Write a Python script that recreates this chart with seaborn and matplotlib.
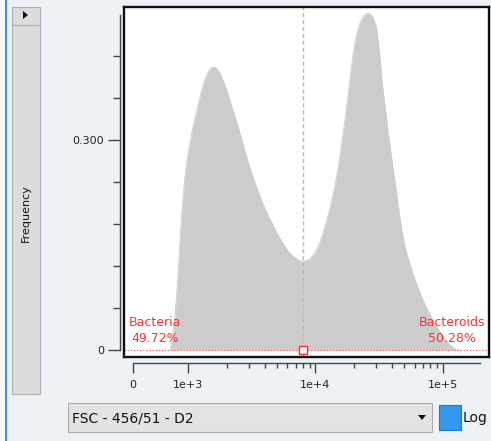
import numpy as np
import pandas as pd
import matplotlib
matplotlib.use("Agg")
import matplotlib.pyplot as plt
import seaborn as sns
from matplotlib.patches import Rectangle, Polygon
from matplotlib.ticker import FixedLocator, FixedFormatter, NullFormatter

# ---- data ----
fsc_values = [671, 707, 743, 760, 797, 833, 851, 887, 941, 977,
              1031, 1089, 1171, 1236, 1281, 1353, 1429, 1536, 1651, 1775,
              1979, 2206, 2415, 2644, 2842, 3056, 3285, 3465, 3662, 3866,
              4232, 4548, 4892, 5250, 5654, 6070, 6655, 7150, 7553, 8268,
              9053, 9732, 10560, 11340, 12410, 13840, 14870, 15700, 16870, 17810,
              18800, 19840, 20950, 22510, 24190, 26000, 27950, 30040, 31710, 33470,
              35330, 37290, 40090, 42310, 44670, 46300, 48880, 51600, 55460, 60690,
              66410, 72680, 79520, 87040, 95260, 104200, 114100, 124800, 131800]
frequency = [0.0, 0.0143, 0.0357, 0.0471, 0.0857, 0.1286, 0.1571, 0.2, 0.2486, 0.2714,
             0.2957, 0.3186, 0.3429, 0.3614, 0.3729, 0.3871, 0.3971, 0.4043, 0.4029, 0.3957,
             0.3743, 0.3471, 0.3243, 0.3, 0.2786, 0.26, 0.2429, 0.2314, 0.22, 0.2086,
             0.1929, 0.1814, 0.17, 0.16, 0.15, 0.1414, 0.1343, 0.13, 0.1271, 0.1271,
             0.13, 0.1371, 0.1486, 0.1643, 0.1886, 0.2243, 0.2543, 0.2829, 0.3229, 0.3571,
             0.3929, 0.4257, 0.45, 0.4686, 0.4786, 0.4814, 0.4771, 0.4629, 0.4286, 0.3814,
             0.3457, 0.31, 0.2686, 0.2386, 0.2071, 0.1857, 0.16, 0.14, 0.1214, 0.1,
             0.0814, 0.0643, 0.05, 0.0371, 0.0257, 0.0157, 0.0071, 0.0014, 0.0]
gate_threshold = 8000
gate_names = ["Bacteria", "Bacteroids"]
gate_percents = ["49.72%", "50.28%"]
x_major_ticks = [0, 1e3, 1e4, 1e5]
x_tick_labels = ["0", "1e+3", "1e+4", "1e+5"]
y_major_ticks = [0, 0.3]
y_tick_labels = ["0", "0.300"]
y_minor_ticks = [0.06, 0.12, 0.18, 0.24, 0.36, 0.42]
channel_label = "FSC - 456/51 - D2"
y_label = "Frequency"

df = pd.DataFrame({"fsc": fsc_values, "freq": frequency})

sns.set_style("white")
plt.rcParams["font.family"] = ["DejaVu Sans"]

W, H = 491, 441
BG = "#EEF2F6"
fig = plt.figure(figsize=(W / 100, H / 100), dpi=100, facecolor=BG)


def rect(x0, y0, x1, y1):
    return [x0 / W, 1 - y1 / H, (x1 - x0) / W, (y1 - y0) / H]


def fp(x, y):
    return (x / W, 1 - y / H)


XLIM = (-156, 2.31e5)
YLIM = (-0.01, 0.49)
LINTHRESH, LINSCALE = 1000, 0.393

# ---- main plot box ----
ax = fig.add_axes(rect(124, 7, 489, 357))
ax.set_facecolor("white")
sns.lineplot(data=df, x="fsc", y="freq", ax=ax, color="#CCCCCC", linewidth=0.6,
             sort=True, estimator=None)
ax.fill_between(df["fsc"], 0, df["freq"], color="#CCCCCC", linewidth=0)
ax.set_xscale("symlog", linthresh=LINTHRESH, linscale=LINSCALE)
ax.set_xlim(*XLIM)
ax.set_ylim(*YLIM)
ax.set_xticks([])
ax.set_yticks([])
ax.set_xlabel("")
ax.set_ylabel("")
for s in ax.spines.values():
    s.set_visible(True)
    s.set_color("#111111")
    s.set_linewidth(1.7)

# gate
ax.axvline(gate_threshold, color="#FF9C9C", linewidth=1.0, dashes=(3, 2))
ax.axhline(0, color="#FF5A5A", linewidth=0.8, dashes=(1.2, 1.6))
ax.plot([gate_threshold], [0], marker="s", markersize=6, markerfacecolor="white",
        markeredgecolor="#FF2020", markeredgewidth=1.0, clip_on=False)
ax.text(0.085, 0.077, gate_names[0] + "\n" + gate_percents[0], transform=ax.transAxes,
        ha="center", va="center", multialignment="center", fontsize=9,
        color="#FF3030", linespacing=1.3)
ax.text(0.899, 0.077, gate_names[1] + "\n" + gate_percents[1], transform=ax.transAxes,
        ha="center", va="center", multialignment="center", fontsize=9,
        color="#FF3030", linespacing=1.3, clip_on=True)

# ---- y axis (separate) ----
ay = fig.add_axes(rect(120, 7, 124, 357))
ay.patch.set_visible(False)
ay.set_ylim(*YLIM)
for k in ["top", "right", "bottom"]:
    ay.spines[k].set_visible(False)
ay.spines["left"].set_bounds(0, 0.4786)
ay.spines["left"].set_color("#444444")
ay.spines["left"].set_linewidth(1.0)
ay.set_xticks([])
ay.yaxis.set_major_locator(FixedLocator(y_major_ticks))
ay.yaxis.set_major_formatter(FixedFormatter(y_tick_labels))
ay.yaxis.set_minor_locator(FixedLocator(y_minor_ticks))
ay.yaxis.set_minor_formatter(NullFormatter())
ay.tick_params(axis="y", which="major", length=8.6, width=1.0, color="#444444",
               labelsize=8, labelcolor="#222222", pad=3, direction="out", left=True)
ay.tick_params(axis="y", which="minor", length=5, width=1.0, color="#444444",
               direction="out", left=True)

# ---- x axis (separate) ----
axx = fig.add_axes(rect(124, 362.5, 489, 363))
axx.patch.set_visible(False)
axx.set_xscale("symlog", linthresh=LINTHRESH, linscale=LINSCALE)
axx.set_xlim(*XLIM)
for k in ["top", "right", "left"]:
    axx.spines[k].set_visible(False)
axx.spines["bottom"].set_bounds(0, 1.96e5)
axx.spines["bottom"].set_color("#444444")
axx.spines["bottom"].set_linewidth(1.0)
axx.set_yticks([])
minor = [m * d for d in (1e3, 1e4) for m in range(2, 10)]
axx.xaxis.set_major_locator(FixedLocator(x_major_ticks))
axx.xaxis.set_major_formatter(FixedFormatter(x_tick_labels))
axx.xaxis.set_minor_locator(FixedLocator(minor))
axx.xaxis.set_minor_formatter(NullFormatter())
axx.tick_params(axis="x", which="major", length=7.2, width=1.0, color="#444444",
                labelsize=8, labelcolor="#222222", pad=5, direction="out", bottom=True)
axx.tick_params(axis="x", which="minor", length=3.6, width=1.0, color="#444444",
                direction="out", bottom=True)

# ---- UI chrome ----
fig.add_artist(Rectangle(fp(5, 441), 2 / W, 1, transform=fig.transFigure,
                         facecolor="#3F8EDB", edgecolor="none"))
fig.add_artist(Rectangle(fp(0, 441), 5 / W, 1, transform=fig.transFigure,
                         facecolor="#F7F9FB", edgecolor="none"))
# left button
fig.add_artist(Rectangle(fp(12, 394), 28 / W, 387 / H, transform=fig.transFigure,
                         facecolor="#DCDCDC", edgecolor="#AFAFAF", linewidth=0.8))
fig.add_artist(plt.Line2D([13 / W, 39 / W], [1 - 25 / H, 1 - 25 / H],
                          transform=fig.transFigure, color="#AFAFAF", linewidth=0.8))
fig.add_artist(Polygon([fp(23, 11), fp(23, 19), fp(28, 15)], closed=True,
                       transform=fig.transFigure, facecolor="#111111", edgecolor="none"))
fig.text(26 / W, 1 - 213 / H, y_label, rotation=90, ha="center", va="center",
         fontsize=8, color="#111111")

# combobox
fig.add_artist(Rectangle(fp(68, 432), 364 / W, 29 / H, transform=fig.transFigure,
                         facecolor="#E3E3E3", edgecolor="#ADADAD", linewidth=0.8))
fig.text(72 / W, 1 - 418 / H, channel_label, ha="left", va="center",
         fontsize=10, color="#111111")
fig.add_artist(Polygon([fp(418, 415), fp(426, 415), fp(422, 420)], closed=True,
                       transform=fig.transFigure, facecolor="#111111", edgecolor="none"))
# Log checkbox
fig.add_artist(Rectangle(fp(439, 430), 22 / W, 25 / H, transform=fig.transFigure,
                         facecolor="#3399EE", edgecolor="#1E78D2", linewidth=0.8))
fig.text(463 / W, 1 - 418 / H, "Log", ha="left", va="center",
         fontsize=10, color="#111111")

fig.savefig("out.png", dpi=100, facecolor=BG)
